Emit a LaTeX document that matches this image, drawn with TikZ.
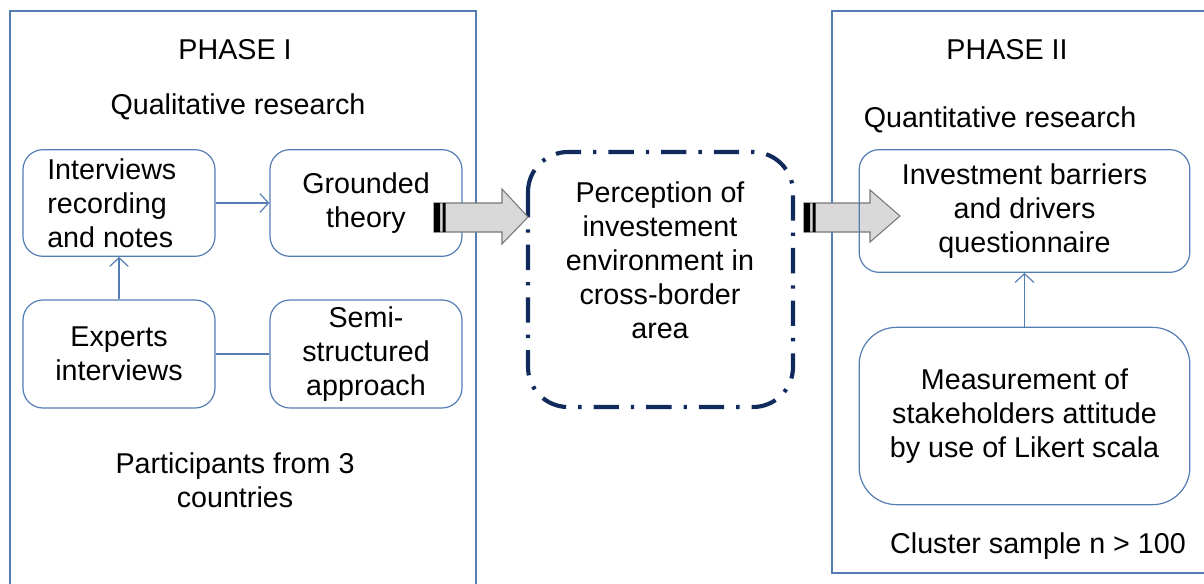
\documentclass[tikz,border=0pt]{standalone}
\usepackage{fontspec}
\setmainfont{Liberation Sans}
\usepackage{tikz}
\usetikzlibrary{arrows.meta}

\begin{document}
\begin{tikzpicture}[x=0.75pt,y=0.75pt,yscale=-1,xscale=1,
    boxline/.style={draw={rgb, 255:red, 84; green, 125; blue, 180}, line width=0.9pt},
    rbox/.style={boxline, rounded corners=15pt, align=center, inner sep=0pt},
    flow/.style={boxline, -{Straight Barb[length=6.5pt,width=14pt]}},
    txt/.style={align=center, inner sep=0pt, font=\fontsize{21.5}{25.5}\selectfont},
    block/.style={fill={rgb, 255:red, 217; green, 217; blue, 217}, draw={rgb, 255:red, 120; green, 120; blue, 120}, line width=0.8pt}]
            \clip (0,0) rectangle (1204,583);
            %Shape: Phase frames
            \draw [boxline] (10,600) -- (10,11) -- (476,11) -- (476,600) ;
            \draw [boxline] (1220,11) -- (832,11) -- (832,573) -- (1220,573) ;

            % Phase I
            \node [txt] (ph1) at (235,50) {PHASE I};
            \node [txt] (qual) at (238,107) {Qualitative research};
            \node [rbox, minimum width=144pt, minimum height=80pt] (rec) at (119,203) {};
            \node [txt, align=left, anchor=west] (rectext) at (47,203) {Interviews\\recording\\and notes};
            \node [rbox, txt, minimum width=144pt, minimum height=80pt] (grd) at (366,203) {Grounded\\theory};
            \node [rbox, txt, minimum width=144pt, minimum height=81pt] (exp) at (119,354) {Experts\\interviews};
            \node [rbox, txt, minimum width=144pt, minimum height=81pt] (semi) at (366,354) {Semi-\\structured\\approach};
            \node [txt] (part) at (235,480) {Participants from 3\\countries};
            \draw [flow] (rec) -- (grd) ;
            \draw [flow] (exp) -- (rec) ;
            \draw [boxline] (exp) -- (semi) ;

            % Centre
            \draw [color={rgb, 255:red, 16; green, 42; blue, 92}, line width=3.1pt, rounded corners=30pt, dash pattern=on 19pt off 9pt on 2.5pt off 9pt] (528,152) rectangle (793,407) ;
            \node [txt] (perc) at (660,260) {Perception of\\investement\\environment in\\cross-border\\area};

            %Shape: Block arrows
            \draw [block] (434,203) -- (502,203) -- (502,189) -- (528,217) -- (502,244) -- (502,232) -- (434,232) -- cycle ;
            \fill [black] (434,203) rectangle (440,232) (442.5,203) rectangle (445.5,232) ;
            \draw [block] (804,203) -- (870,203) -- (870,190) -- (900,216) -- (870,242) -- (870,232) -- (804,232) -- cycle ;
            \fill [black] (804,203) rectangle (810,232) (812.5,203) rectangle (815.5,232) ;

            % Phase II
            \node [txt] (ph2) at (1007,50) {PHASE II};
            \node [txt] (quan) at (1000,120) {Quantitative research};
            \node [rbox, txt, minimum width=248pt, minimum height=92pt] (inv) at (1024.5,211) {Investment barriers\\and drivers\\questionnaire};
            \node [rbox, txt, rounded corners=28pt, minimum width=248pt, minimum height=133pt] (meas) at (1024.5,416) {Measurement of\\stakeholders attitude\\by use of Likert scala};
            \node [txt] (clus) at (1038,546) {Cluster sample n > 100};
            \draw [flow] (meas) -- (inv) ;
        \end{tikzpicture}
\end{document}
